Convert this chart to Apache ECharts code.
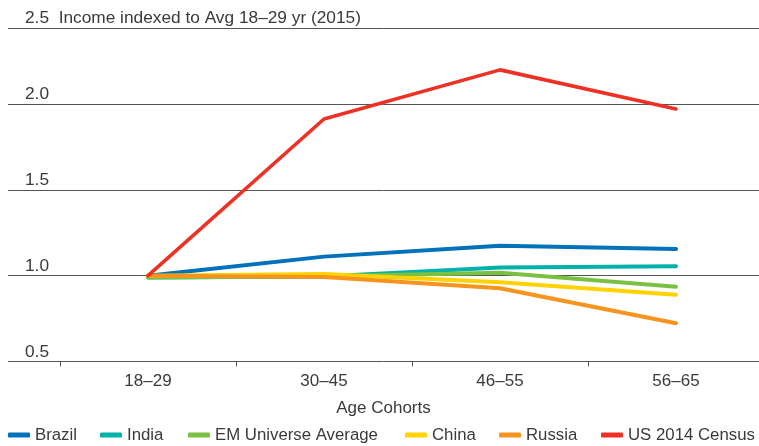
<!DOCTYPE html>
<html>
<head>
<meta charset="utf-8">
<script src="https://cdn.jsdelivr.net/npm/echarts@6/dist/echarts.min.js"></script>
<style>html,body{margin:0;padding:0;background:#fff}#c{width:759px;height:446px}</style>
</head>
<body>
<div id="c"></div>
<script>
var categories = ['18\u201329', '30\u201345', '46\u201355', '56\u201365'];
var seriesNames = ['Brazil', 'India', 'EM Universe Average', 'China', 'Russia', 'US 2014 Census'];
var brazil = [1.0, 1.111, 1.175, 1.156];
var india = [0.99, 0.995, 1.047, 1.055];
var emAverage = [0.99, 0.997, 1.017, 0.936];
var china = [1.0, 1.01, 0.962, 0.889];
var russia = [1.0, 0.993, 0.927, 0.723];
var us2014 = [1.0, 1.913, 2.199, 1.971];
var yTickValues = [0.5, 1.0, 1.5, 2.0];
var yTickLabels = ['0.5', '1.0', '1.5', '2.0'];
var topLabel = '2.5  Income indexed to Avg 18\u201329 yr (2015)';
var xAxisTitle = 'Age Cohorts';

var colors = ['#0072bc', '#00b2a9', '#7ac143', '#ffd200', '#f7941d', '#ee3124'];
var legendLeft = [8, 100, 188, 405, 499, 601];
var allData = [brazil, india, emAverage, china, russia, us2014];
var FONT = 'Liberation Sans, Arial, sans-serif';
var TXT = '#3a3a3a';
var yMin = 0.5, yMax = 2.443;

var chart = echarts.init(document.getElementById('c'), null, {renderer: 'canvas'});
var series = allData.map(function (d, i) {
  return {
    name: seriesNames[i], type: 'line', data: d,
    xAxisIndex: 0, yAxisIndex: 0,
    symbol: 'none', smooth: false,
    lineStyle: {color: colors[i], width: i === 5 ? 3.6 : 4, cap: 'round', join: 'round'},
    itemStyle: {color: colors[i]},
    z: 3
  };
});
var legends = seriesNames.map(function (n, i) {
  return {
    left: legendLeft[i], top: 426.5, padding: 0, itemGap: 0, itemWidth: 22, itemHeight: 5,
    icon: 'roundRect',
    textStyle: {fontSize: 16.8, color: TXT, fontFamily: FONT},
    data: [n]
  };
});
chart.setOption({
  animation: false,
  textStyle: {fontFamily: FONT},
  grid: [
    {left: 60, width: 704, top: 28, bottom: 84.5, outerBoundsMode: 'none', containLabel: false},
    {left: 8, right: 0, top: 28, bottom: 84.5, outerBoundsMode: 'none', containLabel: false}
  ],
  xAxis: [
    {type: 'category', gridIndex: 0, data: categories, boundaryGap: true,
     axisLine: {show: false},
     axisTick: {show: true, length: 5, lineStyle: {color: '#555', width: 1}},
     axisLabel: {fontSize: 17, color: TXT, margin: 11, fontFamily: FONT},
     splitLine: {show: false}},
    {type: 'value', gridIndex: 1, min: 0, max: 1, show: true,
     axisLine: {show: false}, axisTick: {show: false}, axisLabel: {show: false}, splitLine: {show: false},
     name: xAxisTitle, nameLocation: 'middle', nameGap: 38,
     nameTextStyle: {fontSize: 17, color: TXT, fontFamily: FONT}}
  ],
  yAxis: [
    {type: 'value', gridIndex: 0, min: yMin, max: yMax, interval: 0.5, show: false},
    {type: 'value', gridIndex: 1, min: yMin, max: yMax, interval: 0.5,
     axisLine: {show: false}, axisTick: {show: false},
     splitLine: {show: true, lineStyle: {color: '#555', width: 1}},
     axisLabel: {inside: true, margin: 17, verticalAlign: 'bottom', align: 'left',
       padding: [0, 0, 1, 0], fontSize: 17.3, color: TXT, fontFamily: FONT,
       showMinLabel: true, showMaxLabel: true,
       formatter: function (v) {
         if (Math.abs(v - yMax) < 1e-6) return topLabel;
         for (var k = 0; k < yTickValues.length; k++) {
           if (Math.abs(v - yTickValues[k]) < 1e-6) return yTickLabels[k];
         }
         return '';
       }}}
  ],
  legend: legends,
  series: series
});
</script>
</body>
</html>
